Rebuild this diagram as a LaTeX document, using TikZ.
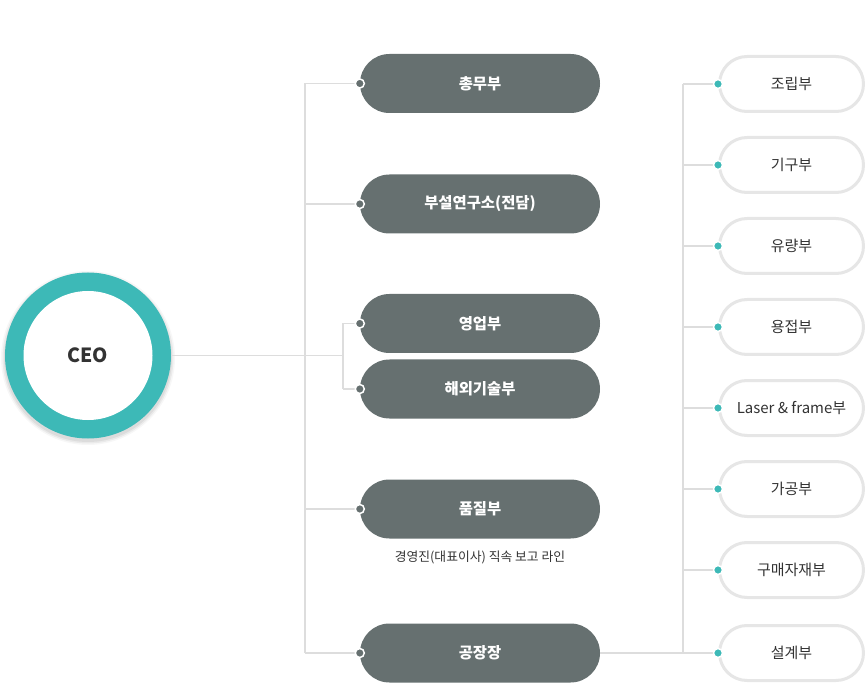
\documentclass[tikz,border=0pt]{standalone}
\usepackage{fontspec}
\setmainfont{Noto Sans CJK KR}
\usetikzlibrary{calc}
\definecolor{teal1}{HTML}{3DB9B7}
\definecolor{pillgray}{HTML}{667070}
\definecolor{linegray}{HTML}{DDDDDD}
\definecolor{bordergray}{HTML}{E6E6E6}
\definecolor{txt}{HTML}{333333}
\tikzset{
  darkpill/.style={rectangle, rounded corners=29.5pt, fill=pillgray, minimum width=240pt, minimum height=59pt, inner sep=0pt, text=white, font=\fontsize{15.4}{18}\selectfont\bfseries},
  wpill/.style={rectangle, rounded corners=27.5pt, fill=white, draw=bordergray, line width=3pt, minimum width=144pt, minimum height=55pt, inner sep=0pt, text=txt, font=\fontsize{15}{17}\selectfont},
  gdot/.style={circle, fill=pillgray, draw=white, line width=1.5pt, minimum size=9pt, inner sep=0pt},
  tdot/.style={circle, fill=teal1, draw=white, line width=1.5pt, minimum size=9pt, inner sep=0pt},
  conn/.style={draw=linegray, line width=1.6pt},
  subnote/.style={text=txt, font=\fontsize{12.8}{15}\selectfont},
}
\begin{document}
\begin{tikzpicture}[x=1pt,y=-1pt]
\useasboundingbox (0,0) rectangle (867,684);
% CEO
\coordinate (ceoc) at (88,355.5);
\foreach \r/\o in {87/0.03,85.5/0.05,84/0.06}{
  \fill[black,opacity=\o] ($(ceoc)+(0,2.5)$) circle (\r pt);
}
\fill[teal1] (ceoc) circle (83pt);
\fill[white] (ceoc) circle (64.5pt);
\node[text=txt, font=\fontsize{19.5}{22}\selectfont\bfseries] (ceo) at (ceoc) {CEO};
\coordinate (ceoe) at (171,355.5);
% junctions
\coordinate (jL) at (305,355.5);
\coordinate (jS) at (343,355.5);
\coordinate (jR) at (683,653);
% dark pills
\node[darkpill] (p1) at (480,83.5) {총무부};
\node[darkpill] (p2) at (480,204) {부설연구소(전담)};
\node[darkpill] (p3) at (480,323.5) {영업부};
\node[darkpill] (p4) at (480,389) {해외기술부};
\node[darkpill] (p5) at (480,509) {품질부};
\node[subnote] (note) at (480,557) {경영진(대표이사) 직속 보고 라인};
\node[darkpill] (p6) at (480,653) {공장장};
% white pills
\node[wpill] (w1) at (791.5,84) {조립부};
\node[wpill] (w2) at (791.5,165) {기구부};
\node[wpill] (w3) at (791.5,246) {유량부};
\node[wpill] (w4) at (791.5,327) {용접부};
\node[wpill] (w5) at (791.5,408) {Laser \& frame부};
\node[wpill] (w6) at (791.5,489) {가공부};
\node[wpill] (w7) at (791.5,570) {구매자재부};
\node[wpill] (w8) at (791.5,653) {설계부};
% connectors left
\draw[conn] (ceoe) -- (jS);
\draw[conn] (p1.west -| jL) -- (p6.west -| jL);
\draw[conn] (p1.west -| jL) -- (p1.west);
\draw[conn] (p2.west -| jL) -- (p2.west);
\draw[conn] (p5.west -| jL) -- (p5.west);
\draw[conn] (p6.west -| jL) -- (p6.west);
\draw[conn] (p3.west -| jS) -- (p4.west -| jS);
\draw[conn] (p3.west -| jS) -- (p3.west);
\draw[conn] (p4.west -| jS) -- (p4.west);
% connectors right
\draw[conn] (w1.west -| jR) -- (jR);
\draw[conn] (p6.east) -- (w8.west);
\foreach \w in {w1,w2,w3,w4,w5,w6,w7}{
  \draw[conn] (\w.west -| jR) -- (\w.west);
}
% dots
\foreach \p in {p1,p2,p3,p4,p5,p6}{
  \node[gdot] at (\p.west) {};
}
\foreach \w in {w1,w2,w3,w4,w5,w6,w7,w8}{
  \node[tdot] at (\w.west) {};
}
\end{tikzpicture}
\end{document}
